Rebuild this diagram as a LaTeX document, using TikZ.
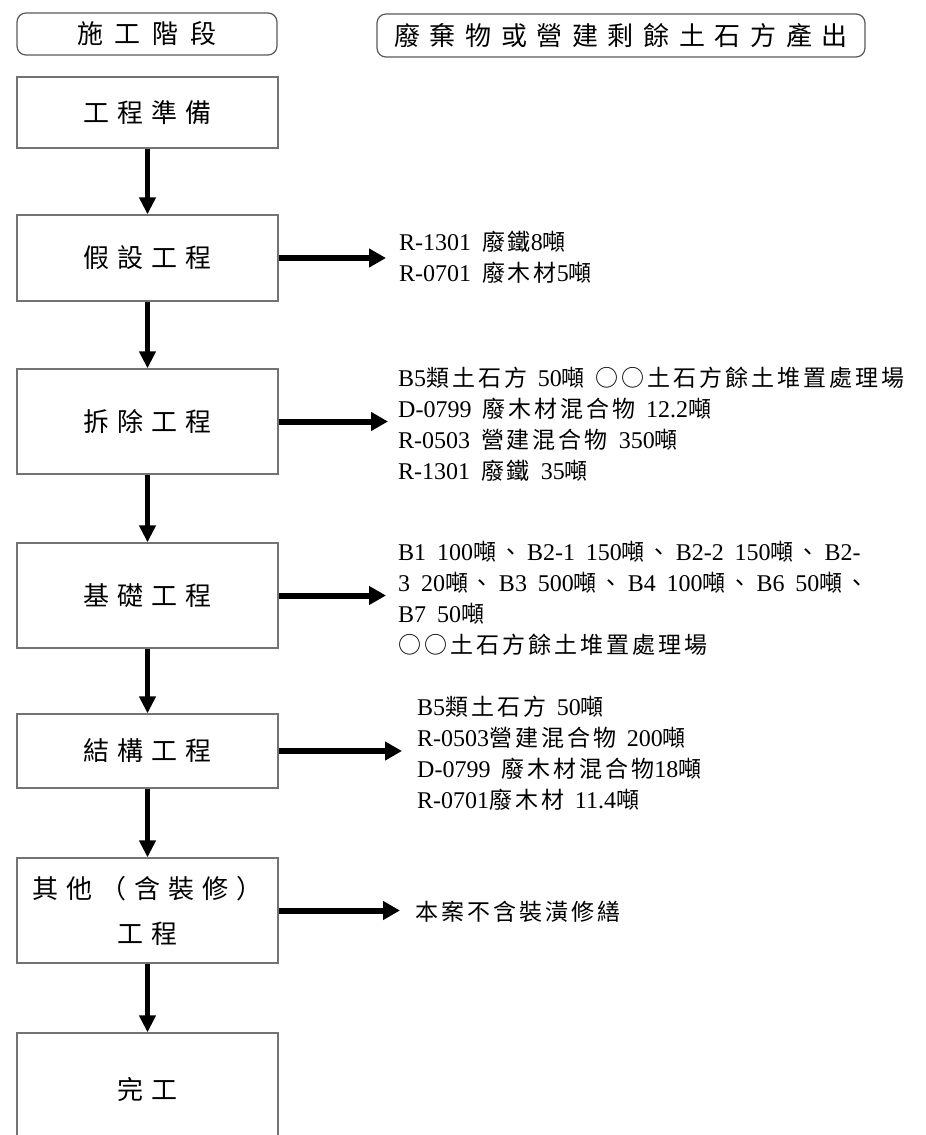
\documentclass[tikz,border=0pt]{standalone}
\usepackage{fontspec}
\setmainfont{Liberation Serif}[WordSpace=1.8]
\newfontfamily\cjkhA[LetterSpace=46]{Noto Sans CJK TC}
\newfontfamily\cjkhB[LetterSpace=37]{Noto Sans CJK TC}
\newfontfamily\cjklab[LetterSpace=31]{Noto Sans CJK TC}
\newfontfamily\cjkr[LetterSpace=13]{Noto Sans CJK TC}
\newcommand\zh[1]{{\fontsize{23}{31}\selectfont\cjkr #1}}
\newcommand\dun{\zh{噸、}\hspace{5pt}}
\usetikzlibrary{arrows.meta}
\begin{document}
\begin{tikzpicture}[x=1pt,y=-1pt,
 stagebox/.style={draw=black!55, line width=1.3pt, minimum width=261pt, inner sep=0pt,
   font=\fontsize{26}{45}\selectfont\cjklab, align=center},
 headbox/.style={draw=black!65, line width=1.2pt, rounded corners=9pt, inner sep=0pt},
 downarrow/.style={line width=5pt, -{Triangle[width=16pt,length=17pt]}},
 sidearrow/.style={line width=6pt, -{Triangle[width=18pt,length=17pt]}},
 outtext/.style={anchor=west, inner sep=0pt, align=left, font=\fontsize{24}{31}\selectfont}
]
\useasboundingbox (0,0) rectangle (926,1135);

% headers
\node[headbox, minimum width=260pt, minimum height=42pt,
  font=\fontsize{26}{28}\selectfont\cjkhA] (h1) at (147,34) {施工階段};
\node[headbox, minimum width=488pt, minimum height=43pt,
  font=\fontsize{26}{28}\selectfont\cjkhB] (h2) at (621,35.5) {廢棄物或營建剩餘土石方產出};

% stage boxes
\node[stagebox, minimum height=71pt]  (b1) at (147.5,112.5) {工程準備};
\node[stagebox, minimum height=86pt]  (b2) at (147.5,258)   {假設工程};
\node[stagebox, minimum height=105pt] (b3) at (147.5,421.5) {拆除工程};
\node[stagebox, minimum height=105pt] (b4) at (147.5,595.5) {基礎工程};
\node[stagebox, minimum height=74pt]  (b5) at (147.5,751)   {結構工程};
\node[stagebox, minimum height=105pt] (b6) at (147.5,910.5) {其他（含裝修）\\工程};
\node[stagebox, minimum height=114pt] (b7) at (147.5,1090)  {完工};

% vertical arrows
\draw[downarrow] (b1.south) -- (b2.north);
\draw[downarrow] (b2.south) -- (b3.north);
\draw[downarrow] (b3.south) -- (b4.north);
\draw[downarrow] (b4.south) -- (b5.north);
\draw[downarrow] (b5.south) -- (b6.north);
\draw[downarrow] (b6.south) -- (b7.north);

% side arrows
\coordinate (e2) at (386,258);
\coordinate (e3) at (388,421.5);
\coordinate (e4) at (386,595.5);
\coordinate (e5) at (402,751);
\coordinate (e6) at (400,910.5);
\draw[sidearrow] (b2.east) -- (e2);
\draw[sidearrow] (b3.east) -- (e3);
\draw[sidearrow] (b4.east) -- (e4);
\draw[sidearrow] (b5.east) -- (e5);
\draw[sidearrow] (b6.east) -- (e6);

% output texts
\node[outtext] (t2) at (399,257.5) {R-1301 \zh{廢鐵}8\zh{噸}\\R-0701 \zh{廢木材}5\zh{噸}};
\node[outtext] (t3) at (398,424) {B5\zh{類土石方} 50\zh{噸} \zh{○○土石方餘土堆置處理場}\\D-0799 \zh{廢木材混合物} 12.2\zh{噸}\\R-0503 \zh{營建混合物} 350\zh{噸}\\R-1301 \zh{廢鐵} 35\zh{噸}};
\node[outtext] (t4) at (398,598) {B1 100\dun B2-1 150\dun B2-2 150\dun B2-\\3 20\dun B3 500\dun B4 100\dun B6 50\zh{噸、}\\B7 50\zh{噸}\\\zh{○○土石方餘土堆置處理場}};
\node[outtext] (t5) at (417,753) {B5\zh{類土石方} 50\zh{噸}\\R-0503\zh{營建混合物} 200\zh{噸}\\D-0799 \zh{廢木材混合物}18\zh{噸}\\R-0701\zh{廢木材} 11.4\zh{噸}};
\node[outtext] (t6) at (415,912) {\zh{本案不含裝潢修繕}};
\end{tikzpicture}
\end{document}
